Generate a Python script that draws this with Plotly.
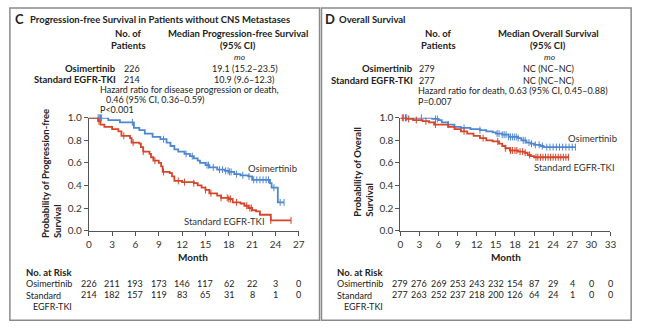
import plotly.graph_objects as go

W, H = 647, 331
FONT = "Lato"
BLUE = "#4f86d0"
RED = "#d4452a"
TXT = "#222222"

# ---------------- Panel C: PFS without CNS metastases ----------------
c_osi_t = [0, 2.5, 4.0, 5.8, 6.5, 7.2, 8.2, 9.2, 10.0, 10.5, 11.0, 11.5, 12.3, 13.0, 13.5,
           14.0, 14.3, 15.0, 15.5, 16.5, 17.5, 18.0, 18.7, 19.5, 20.5, 21.0, 23.3, 23.5, 24.3]
c_osi_s = [1.0, 0.98, 0.96, 0.91, 0.89, 0.86, 0.83, 0.81, 0.78, 0.75, 0.72, 0.70, 0.68, 0.66, 0.64,
           0.62, 0.60, 0.58, 0.56, 0.54, 0.53, 0.52, 0.50, 0.49, 0.48, 0.45, 0.42, 0.38, 0.25]
c_osi_end = 25.1
c_osi_cens = [1.2, 1.35, 1.5, 1.65, 5.6, 9.6, 12.5, 13.3, 15.2, 15.4, 16.0, 16.8, 17.2, 17.6, 17.9,
              18.1, 18.3, 19.0, 19.8, 20.6, 21.2, 21.6, 22.0, 22.4, 22.8, 23.1, 23.8, 24.6, 25.1]

c_std_t = [0, 1.2, 1.5, 2.0, 3.0, 3.8, 4.2, 5.3, 5.5, 6.5, 6.7, 7.0, 7.8, 8.0, 8.3, 9.0, 9.3, 9.5,
           10.4, 10.7, 11.0, 12.0, 13.5, 14.0, 14.5, 15.0, 15.5, 16.5, 17.0, 18.0, 18.5, 19.5, 20.0,
           20.5, 21.0, 21.5, 22.0, 23.4]
c_std_s = [1.0, 0.97, 0.94, 0.92, 0.90, 0.88, 0.84, 0.82, 0.78, 0.77, 0.74, 0.70, 0.68, 0.65, 0.62,
           0.60, 0.57, 0.52, 0.51, 0.48, 0.44, 0.43, 0.42, 0.40, 0.38, 0.36, 0.33, 0.31, 0.29, 0.28,
           0.25, 0.24, 0.22, 0.20, 0.18, 0.17, 0.14, 0.09]
c_std_end = 26.0
c_std_cens = [1.3, 4.5, 5.7, 7.0, 8.5, 9.6, 11.5, 12.3, 13.5, 15.0, 15.7, 17.0, 17.8, 18.0, 18.2,
              19.0, 20.3, 20.7, 20.9, 23.4, 26.0]

c_months = [0, 3, 6, 9, 12, 15, 18, 21, 24, 27]
c_risk_osi = [226, 211, 193, 173, 146, 117, 62, 22, 3, 0]
c_risk_std = [214, 182, 157, 119, 83, 65, 31, 8, 1, 0]

# ---------------- Panel D: Overall survival ----------------
d_osi_t = [0, 5.0, 6.0, 6.5, 7.5, 8.5, 9.5, 11.0, 12.5, 13.5, 14.5, 15.0, 16.0, 17.0, 18.5, 19.0,
           19.8, 20.5, 21.0, 22.0, 22.5]
d_osi_s = [1.0, 0.99, 0.98, 0.96, 0.94, 0.92, 0.91, 0.90, 0.89, 0.88, 0.87, 0.86, 0.85, 0.83, 0.82,
           0.80, 0.78, 0.77, 0.76, 0.75, 0.74]
d_osi_end = 27.5
d_osi_cens = [0.5, 1.0, 3.3, 5.5, 5.8, 7.5, 10.0, 12.5, 15.2, 15.5, 16.0, 16.3, 16.6, 17.0, 17.3,
              17.6, 17.9, 18.2, 18.5, 19.3, 19.6, 20.2, 20.6, 21.2, 21.8, 22.3, 23.0, 23.5, 24.0,
              24.5, 25.0, 25.5, 26.0, 26.5, 27.0, 27.5]

d_std_t = [0, 1.0, 2.0, 3.5, 4.5, 5.3, 7.5, 8.5, 9.5, 10.5, 11.5, 12.5, 13.5, 14.5, 15.5, 16.0,
           16.5, 17.2, 18.5, 19.5, 20.0, 20.5, 21.0]
d_std_s = [1.0, 0.99, 0.98, 0.97, 0.96, 0.94, 0.92, 0.90, 0.88, 0.86, 0.84, 0.82, 0.80, 0.79, 0.77,
           0.75, 0.73, 0.71, 0.70, 0.69, 0.67, 0.66, 0.65]
d_std_end = 26.5
d_std_cens = [0.3, 0.8, 1.3, 2.5, 4.0, 5.5, 10.0, 13.0, 15.3, 16.5, 17.3, 17.6, 18.0, 18.3, 18.8,
              19.2, 19.6, 20.3, 21.3, 21.6, 22.0, 22.4, 22.8, 23.2, 23.6, 24.0, 24.4, 24.8, 25.2,
              25.6, 26.0, 26.4]

d_months = [0, 3, 6, 9, 12, 15, 18, 21, 24, 27, 30, 33]
d_risk_osi = [279, 276, 269, 253, 243, 232, 154, 87, 29, 4, 0, 0]
d_risk_std = [277, 263, 252, 237, 218, 200, 126, 64, 24, 1, 0, 0]

yticks = [0, 0.2, 0.4, 0.6, 0.8, 1.0]
ytext = ["0.0", "0.2", "0.4", "0.6", "0.8", "1.0"]


def fx(px):
    return px / W


def fy(py):
    return 1 - py / H


def surv_at(ts, ss, t):
    v = ss[0]
    for a, b in zip(ts, ss):
        if a <= t:
            v = b
    return v


fig = go.Figure()


def add_curve(ts, ss, end, cens, color, xa, ya):
    xs = list(ts) + [end]
    ys = list(ss) + [ss[-1]]
    fig.add_trace(go.Scatter(x=xs, y=ys, mode="lines", line=dict(color=color, width=1.8, shape="hv"),
                             xaxis=xa, yaxis=ya, cliponaxis=False, showlegend=False, hoverinfo="skip"))
    cy = [surv_at(ts, ss, t) for t in cens]
    fig.add_trace(go.Scatter(x=cens, y=cy, mode="markers",
                             marker=dict(symbol="line-ns", size=5, color=color,
                                         line=dict(color=color, width=1)),
                             xaxis=xa, yaxis=ya, cliponaxis=False, showlegend=False, hoverinfo="skip"))


add_curve(c_osi_t, c_osi_s, c_osi_end, c_osi_cens, BLUE, "x", "y")
add_curve(c_std_t, c_std_s, c_std_end, c_std_cens, RED, "x", "y")
add_curve(d_osi_t, d_osi_s, d_osi_end, d_osi_cens, BLUE, "x2", "y2")
add_curve(d_std_t, d_std_s, d_std_end, d_std_cens, RED, "x2", "y2")

axis_common = dict(showgrid=False, zeroline=False, showline=True, linecolor="#555555", linewidth=1,
                   ticks="outside", ticklen=4, tickcolor="#555555", tickwidth=1,
                   tickfont=dict(family=FONT, size=10, color="#333333"), fixedrange=True)
ydom = [fy(233), fy(116)]
fig.update_layout(
    xaxis=dict(domain=[fx(87), fx(300)], range=[0, 27], tickvals=c_months, anchor="y", **axis_common),
    yaxis=dict(domain=ydom, range=[0, 1], tickvals=yticks, ticktext=ytext, anchor="x", **axis_common),
    xaxis2=dict(domain=[fx(403), fx(616)], range=[0, 33], tickvals=d_months, anchor="y2", **axis_common),
    yaxis2=dict(domain=ydom, range=[0, 1], tickvals=yticks, ticktext=ytext, anchor="x2", **axis_common),
)

ann = []


def T(text, x, y, size=9, bold=False, italic=False, anchor="left", color=TXT, xref="paper", angle=0):
    if bold:
        text = "<b>" + text + "</b>"
    if italic:
        text = "<i>" + text + "</i>"
    ann.append(dict(text=text, x=(fx(x) if xref == "paper" else x), y=fy(y), xref=xref, yref="paper",
                    xanchor=anchor, yanchor="middle", showarrow=False, textangle=angle, align="left",
                    borderpad=0,
                    font=dict(family=FONT, size=size, color=color)))


# ---- Panel C header ----
T("C", 11, 14, size=13, bold=True)
T("Progression-free Survival in Patients without CNS Metastases", 26, 14, size=9.5, bold=True)
T("No. of", 127, 29, size=9.5, bold=True, anchor="center")
T("Patients", 127, 41, size=9.5, bold=True, anchor="center")
T("Median Progression-free Survival", 238, 29, size=9.5, bold=True, anchor="center")
T("(95% CI)", 238, 41, size=9.5, bold=True, anchor="center")
T("mo", 240, 53, italic=True, anchor="center", size=8.5)
T("Osimertinib", 116, 65, size=9.5, bold=True, anchor="right")
T("Standard EGFR-TKI", 116, 76, size=9.5, bold=True, anchor="right")
T("226", 122, 65)
T("214", 122, 76)
T("19.1 (15.2–23.5)", 245, 65, anchor="center")
T("10.9 (9.6–12.3)", 244, 76, anchor="center")
T("Hazard ratio for disease progression or death,", 97, 87)
T("0.46 (95% CI, 0.36–0.59)", 103, 97)
T("P<0.001", 97, 107)

# ---- Panel D header ----
T("D", 326, 14, size=13, bold=True)
T("Overall Survival", 340, 14, size=9.5, bold=True)
T("No. of", 442, 29, size=9.5, bold=True, anchor="center")
T("Patients", 442, 41, size=9.5, bold=True, anchor="center")
T("Median Overall Survival", 553, 29, size=9.5, bold=True, anchor="center")
T("(95% CI)", 553, 41, size=9.5, bold=True, anchor="center")
T("mo", 555, 53, italic=True, anchor="center", size=8.5)
T("Osimertinib", 417, 65, size=9.5, bold=True, anchor="right")
T("Standard EGFR-TKI", 417, 77, size=9.5, bold=True, anchor="right")
T("279", 421, 65)
T("277", 421, 77)
T("NC (NC–NC)", 553, 65, anchor="center")
T("NC (NC–NC)", 553, 77, anchor="center")
T("Hazard ratio for death, 0.63 (95% CI, 0.45–0.88)", 420, 88)
T("P=0.007", 420, 99)

# ---- axis titles ----
T("Probability of Progression-free<br>Survival", 49, 174, bold=True, anchor="center", size=9.5, angle=-90)
T("Month", 193, 260, bold=True, anchor="center", size=10)
T("Probability of Overall<br>Survival", 366, 172, bold=True, anchor="center", size=9.5, angle=-90)
T("Month", 510, 260, bold=True, anchor="center", size=10)

# ---- curve labels ----
T("Osimertinib", 247, 169, size=9.5, color="#333333")
T("Standard EGFR-TKI", 267, 224, size=9.5, color="#333333", anchor="right")
T("Osimertinib", 572, 138, size=9.5, color="#333333")
T("Standard EGFR-TKI", 537, 168, size=9.5, color="#333333")

# ---- at-risk tables ----
ROW_LABELS = "Osimertinib<br>Standard<br>&nbsp;&nbsp;&nbsp;EGFR-TKI"
T("No. at Risk", 22, 277, bold=True, size=9.5)
T(ROW_LABELS, 22, 299.5)
for m, a, b in zip(c_months, c_risk_osi, c_risk_std):
    T(str(a), m, 288, anchor="center", xref="x")
    T(str(b), m, 299.5, anchor="center", xref="x")

T("No. at Risk", 338, 277, bold=True, size=9.5)
T(ROW_LABELS, 338, 299.5)
for m, a, b in zip(d_months, d_risk_osi, d_risk_std):
    T(str(a), m, 288, anchor="center", xref="x2")
    T(str(b), m, 299.5, anchor="center", xref="x2")

shapes = [
    dict(type="rect", xref="paper", yref="paper", x0=fx(7), x1=fx(321), y0=fy(326), y1=fy(2),
         line=dict(color="#8a8a8a", width=1.5)),
    dict(type="rect", xref="paper", yref="paper", x0=fx(323), x1=fx(637), y0=fy(326), y1=fy(2),
         line=dict(color="#8a8a8a", width=1.5)),
]

fig.update_layout(width=W, height=H, margin=dict(l=0, r=0, t=0, b=0), paper_bgcolor="white",
                  plot_bgcolor="white", annotations=ann, shapes=shapes, showlegend=False,
                  font=dict(family=FONT))

fig.write_html("out.html", config={"displayModeBar": False})
